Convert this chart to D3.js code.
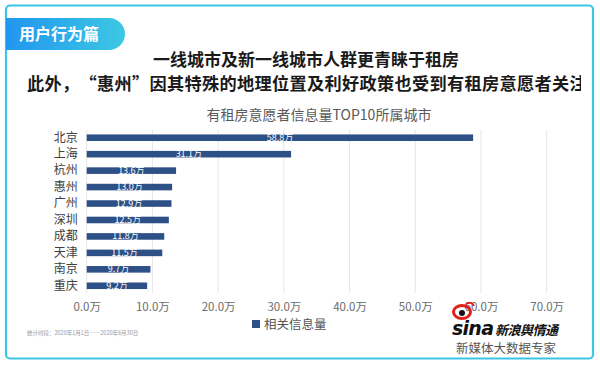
<!DOCTYPE html>
<html lang="zh-CN">
<head>
<meta charset="utf-8">
<script src="https://cdn.jsdelivr.net/npm/d3@7"></script>
<style>
  body { margin: 0; background: #fff; }
  svg { display: block; font-family: "Noto Sans CJK SC", "Noto Sans", sans-serif; }
</style>
</head>
<body>
<div id="chart"></div>
<script>
// data (unit: 万)
const cities = ["北京", "上海", "杭州", "惠州", "广州", "深圳", "成都", "天津", "南京", "重庆"];
const values = [58.8, 31.1, 13.6, 13.0, 12.9, 12.5, 11.8, 11.5, 9.7, 9.2];
const ticks = [0, 10, 20, 30, 40, 50, 60, 70];
const seriesName = "相关信息量";

const W = 600, H = 365;
const BAR_COLOR = "#2d5086";

const svg = d3.select("#chart").append("svg")
  .attr("width", W).attr("height", H);

// frame
svg.append("rect")
  .attr("x", 6).attr("y", 5.5).attr("width", 587).attr("height", 353)
  .attr("rx", 4)
  .style("fill", "#fff").style("stroke", "#3ec4e6").style("stroke-width", 2.2);

// badge
let defs = svg.append("defs");
let grad = defs.append("linearGradient").attr("id", "badge");
grad.append("stop").attr("offset", "0%").attr("stop-color", "#2196f0");
grad.append("stop").attr("offset", "100%").attr("stop-color", "#3cc8e3");
defs.append("clipPath").attr("id", "clipTitle")
  .append("rect").attr("x", 0).attr("y", 0).attr("width", 581).attr("height", H);

svg.append("path")
  .attr("d", "M6,18 H109 A16,16 0 0 1 109,50 H6 Z")
  .style("fill", "url(#badge)");
svg.append("text")
  .attr("x", 19).attr("y", 40)
  .style("fill", "#fff").style("font-size", "16px").style("font-weight", "bold")
  .text("用户行为篇");

// headline
svg.append("text")
  .attr("x", 306).attr("y", 66).attr("text-anchor", "middle")
  .style("fill", "#1a1a1a").style("font-size", "17px").style("font-weight", "bold")
  .text("一线城市及新一线城市人群更青睐于租房");

// second line: every glyph full width (quotes too), overflowing the frame like the original
const line2 = "此外，“惠州”因其特殊的地理位置及利好政策也受到有租房意愿者关注";
svg.append("text")
  .attr("x", Array.from(line2).map((c, i) => 27 + i * 17.5).join(" "))
  .attr("y", 90).attr("clip-path", "url(#clipTitle)")
  .style("fill", "#1a1a1a").style("font-size", "17.2px").style("font-weight", "bold")
  .text(line2);

// chart title
svg.append("text")
  .attr("x", 319).attr("y", 120).attr("text-anchor", "middle")
  .style("fill", "#5a5a5a").style("font-size", "14px")
  .text("有租房意愿者信息量TOP10所属城市");

// scales
const x = d3.scaleLinear().domain([0, 70]).range([86.7, 546.7]);
const y = d3.scaleBand().domain(cities).range([129.5, 294]).paddingInner(0.6).paddingOuter(0.3);

// grid
svg.append("g").selectAll("line")
  .data(ticks).join("line")
  .attr("x1", d => x(d)).attr("x2", d => x(d))
  .attr("y1", 130).attr("y2", 293)
  .style("stroke", "#e6e6e6").style("stroke-width", 1);

// x axis labels
const xAxis = d3.axisBottom(x).tickValues(ticks)
  .tickFormat(d => d.toFixed(1) + "万").tickSize(0).tickPadding(0);
svg.append("g")
  .attr("transform", "translate(0,303)")
  .call(xAxis)
  .call(g => g.select(".domain").remove())
  .selectAll("text")
  .style("fill", "#6b6b6b").style("font-size", "11.5px")
  .style("font-family", "\"Noto Sans CJK SC\", sans-serif");

// y axis labels
const yAxis = d3.axisLeft(y).tickSize(0).tickPadding(9);
svg.append("g")
  .attr("transform", "translate(86.7,0)")
  .call(yAxis)
  .call(g => g.select(".domain").remove())
  .selectAll("text")
  .style("fill", "#404040").style("font-size", "12px")
  .style("font-family", "\"Noto Sans CJK SC\", sans-serif");

// bars
const rows = cities.map((c, i) => ({ city: c, value: values[i] }));
svg.append("g").selectAll("rect")
  .data(rows).join("rect")
  .attr("x", x(0))
  .attr("y", d => y(d.city))
  .attr("width", d => x(d.value) - x(0))
  .attr("height", y.bandwidth())
  .style("fill", BAR_COLOR);

svg.append("g").selectAll("text")
  .data(rows).join("text")
  .attr("x", d => (x(0) + x(d.value)) / 2)
  .attr("y", d => y(d.city) + y.bandwidth() / 2 + 3)
  .attr("text-anchor", "middle")
  .style("fill", "#fff").style("font-size", "9px")
  .text(d => d.value.toFixed(1) + "万");

// legend
svg.append("rect")
  .attr("x", 252).attr("y", 320).attr("width", 8).attr("height", 8)
  .style("fill", BAR_COLOR);
svg.append("text")
  .attr("x", 264).attr("y", 329)
  .style("fill", "#555").style("font-size", "12.5px")
  .text(seriesName);

// footnote
svg.append("text")
  .attr("x", 27).attr("y", 335)
  .style("fill", "#999").style("font-size", "5.5px")
  .text("统计时段：2020年1月1日——2020年6月30日");

// sina logo
const logo = svg.append("g");
logo.append("ellipse")
  .attr("cx", 462).attr("cy", 312).attr("rx", 8.5).attr("ry", 6.5)
  .style("fill", "none").style("stroke", "#e0201d").style("stroke-width", 3);
logo.append("circle")
  .attr("cx", 462).attr("cy", 313).attr("r", 3).style("fill", "#111");
logo.append("path")
  .attr("d", "M466,304 q6,-3 8,2")
  .style("fill", "none").style("stroke", "#e0201d").style("stroke-width", 2);
logo.append("text")
  .attr("x", 452).attr("y", 335)
  .style("fill", "#111").style("font-size", "19px").style("font-weight", "bold")
  .style("font-style", "italic").style("font-family", "\"DejaVu Sans\", sans-serif")
  .attr("textLength", 42)
  .text("sina");
logo.append("text")
  .attr("x", 495).attr("y", 335)
  .style("fill", "#111").style("font-size", "13px").style("font-weight", "bold")
  .style("font-style", "italic")
  .attr("textLength", 63)
  .text("新浪舆情通");
svg.append("text")
  .attr("x", 506).attr("y", 353).attr("text-anchor", "middle")
  .style("fill", "#555").style("font-size", "12.5px")
  .text("新媒体大数据专家");
</script>
</body>
</html>
